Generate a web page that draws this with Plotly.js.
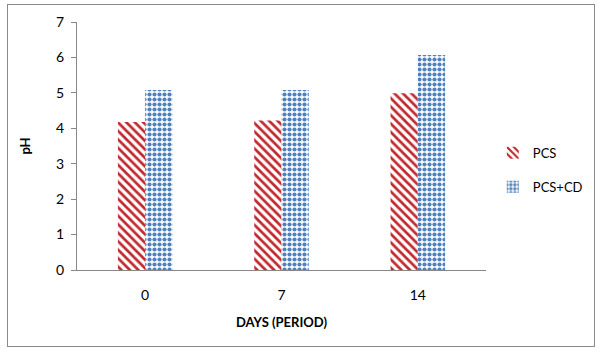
<!DOCTYPE html>
<html><head><meta charset="utf-8">
<script src="https://cdn.plot.ly/plotly-3.0.1.min.js"></script>
<style>
html,body{margin:0;padding:0;background:#fff;}
#frame{position:absolute;left:7px;top:4px;width:588px;height:343px;border:1px solid #898989;box-sizing:border-box;pointer-events:none;z-index:5;}
#chart{width:601px;height:354px;}
</style></head>
<body>
<div id="chart"></div>
<div id="frame"></div>
<script>
const categories = ["0", "7", "14"];
const pcs = [4.18, 4.22, 4.99];
const pcsCd = [5.08, 5.08, 6.07];
const yTicks = [0, 1, 2, 3, 4, 5, 6, 7];

const font = "Lato, 'Open Sans', 'DejaVu Sans', sans-serif";

const traces = [
  {type:"bar", name:"PCS", x:categories, y:pcs, legendgroup:"a",
   marker:{color:"#ffffff", line:{width:0},
     pattern:{shape:"\\", fgcolor:"#C0282D", bgcolor:"#ffffff", size:6, solidity:0.45}}},
  {type:"bar", name:"PCS+CD", x:categories, y:pcsCd, legendgroup:"b",
   marker:{color:"#ffffff", line:{width:0},
     pattern:{shape:".", fgcolor:"#4F81BD", bgcolor:"#ffffff", size:5, solidity:0.55}}}
];

const layout = {
  width:601, height:354,
  margin:{l:77, r:115, t:22, b:84, autoexpand:false},
  paper_bgcolor:"#ffffff", plot_bgcolor:"#ffffff",
  barmode:"group", bargap:0.6, bargroupgap:0,
  font:{family:font, size:14, color:"#000"},
  showlegend:true,
  legend:{xref:"container", yref:"container", x:0.82, y:0.52, xanchor:"left", yanchor:"middle",
    font:{family:font, size:13, color:"#000"}, traceorder:"grouped", tracegroupgap:14, itemwidth:30},
  xaxis:{type:"category", showline:true, linecolor:"#878787", linewidth:1,
    ticks:"", tickfont:{family:font, size:14}, showgrid:false, zeroline:false,
    ticklabelstandoff:12,
    title:{text:"<b>DAYS (PERIOD)</b>", font:{family:font, size:13}, standoff:16}},
  yaxis:{range:[0,7], tickvals:yTicks, showline:true, linecolor:"#878787", linewidth:1,
    ticks:"outside", ticklen:5, tickcolor:"#878787", showgrid:false, zeroline:false,
    ticklabelstandoff:4,
    tickfont:{family:font, size:14},
    title:{text:"<b>pH</b>", font:{family:font, size:13}, standoff:22}}
};

Plotly.newPlot("chart", traces, layout, {displayModeBar:false, staticPlot:true});
</script>
</body></html>
